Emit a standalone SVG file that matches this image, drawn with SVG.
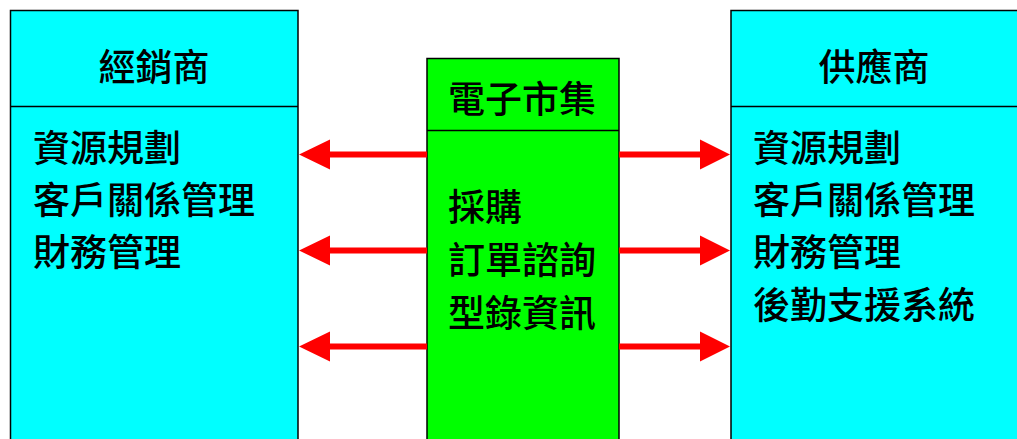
<svg xmlns="http://www.w3.org/2000/svg" width="1017" height="439" viewBox="0 0 1017 439">
<style>
.box{stroke:#000;stroke-width:1.5}
.cyan{fill:#00FFFF}
.green{fill:#00FF00}
.div{stroke:#000;stroke-width:1.5}
text{font-family:"Noto Sans CJK TC","Noto Sans CJK SC",sans-serif;font-size:37px;font-weight:500;fill:#000}
.c{text-anchor:middle}
.arr{stroke:#FF0000;stroke-width:6;fill:none}
.head{fill:#FF0000}
</style>
<rect width="1017" height="439" fill="#fff"/>
<g id="dealer">
<rect class="box cyan" x="10.5" y="10.5" width="287.5" height="440"/>
<line class="div" x1="10.5" y1="106.5" x2="298" y2="106.5"/>
<text class="c" x="154" y="81">經銷商</text>
<text x="33" y="162">資源規劃</text>
<text x="33" y="214">客戶關係管理</text>
<text x="33" y="266">財務管理</text>
</g>
<g id="emarket">
<rect class="box green" x="427" y="58.5" width="192" height="400"/>
<line class="div" x1="427" y1="130.5" x2="619" y2="130.5"/>
<text class="c" x="522" y="113">電子市集</text>
<text x="448" y="221">採購</text>
<text x="448" y="274">訂單諮詢</text>
<text x="448" y="327">型錄資訊</text>
</g>
<g id="supplier">
<rect class="box cyan" x="731" y="10.5" width="300" height="440"/>
<line class="div" x1="731" y1="106.5" x2="1031" y2="106.5"/>
<text class="c" x="874" y="81">供應商</text>
<text x="753" y="162">資源規劃</text>
<text x="753" y="214">客戶關係管理</text>
<text x="753" y="266">財務管理</text>
<text x="753" y="319">後勤支援系統</text>
</g>
<g id="connectors">
<line class="arr" x1="427" y1="154.5" x2="328" y2="154.5"/>
<polygon class="head" points="299,154.5 330,139.5 330,169.5"/>
<line class="arr" x1="427" y1="250.5" x2="328" y2="250.5"/>
<polygon class="head" points="299,250.5 330,235.5 330,265.5"/>
<line class="arr" x1="427" y1="346.5" x2="328" y2="346.5"/>
<polygon class="head" points="299,346.5 330,331.5 330,361.5"/>
<line class="arr" x1="619" y1="154.5" x2="702" y2="154.5"/>
<polygon class="head" points="730,154.5 700,139.5 700,169.5"/>
<line class="arr" x1="619" y1="250.5" x2="702" y2="250.5"/>
<polygon class="head" points="730,250.5 700,235.5 700,265.5"/>
<line class="arr" x1="619" y1="346.5" x2="702" y2="346.5"/>
<polygon class="head" points="730,346.5 700,331.5 700,361.5"/>
</g>
</svg>
